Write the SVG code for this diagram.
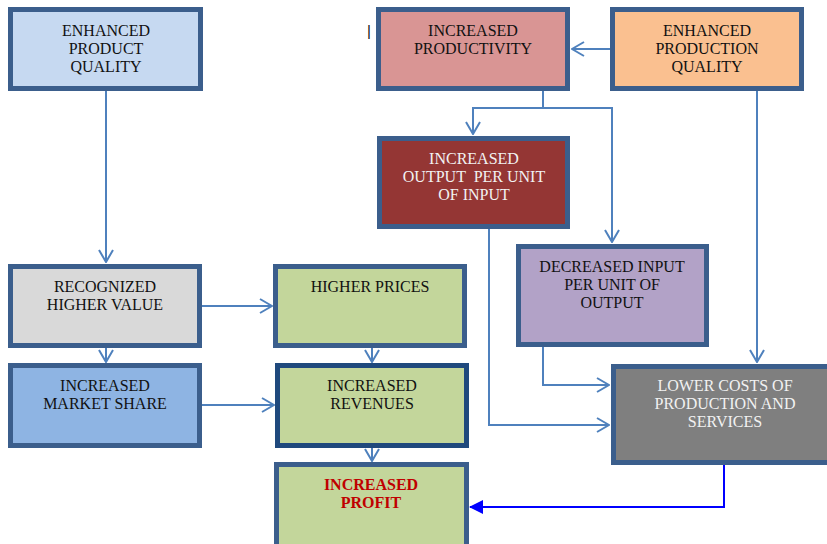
<svg xmlns="http://www.w3.org/2000/svg" width="827" height="544" viewBox="0 0 827 544">
<style>
.box{stroke:#3b5e8c;stroke-width:5}
.t{font-family:"Liberation Serif","Times New Roman",serif;font-size:16px;text-anchor:middle;fill:#111}
.w{fill:#f2f2f2}
.con{fill:none;stroke:#4f81bd;stroke-width:2;marker-end:url(#open)}
</style>
<defs>
<marker id="open" viewBox="0 0 14 16" refX="13" refY="8" markerWidth="14" markerHeight="16" orient="auto" markerUnits="userSpaceOnUse">
<path d="M1,1 L13,8 L1,15" fill="none" stroke="#4f81bd" stroke-width="2"/>
</marker>
<marker id="solid" viewBox="0 0 14 14" refX="13" refY="7" markerWidth="14" markerHeight="14" orient="auto" markerUnits="userSpaceOnUse">
<path d="M0,0 L14,7 L0,14 Z" fill="#0000ff"/>
</marker>
</defs>
<rect width="827" height="544" fill="#fff"/>
<text x="369" y="36" class="t" style="font-family:'Liberation Sans',sans-serif;font-size:15px">|</text>
<g id="connectors">
<path class="con" d="M106,91 V262"/>
<path class="con" d="M610,49 H572"/>
<path class="con" d="M543,91 V108 H473 V134"/>
<path class="con" d="M543,108 H612 V242"/>
<path class="con" d="M757,91 V362"/>
<path class="con" d="M489,217 V425 H609"/>
<path class="con" d="M543,347 V385 H609"/>
<path class="con" d="M202,306 H272"/>
<path class="con" d="M106,348 V362"/>
<path class="con" d="M372,348 V362"/>
<path class="con" d="M202,405 H274"/>
<path class="con" d="M372,448 V461"/>
<path d="M724,465 V507 H470" fill="none" stroke="#0000ff" stroke-width="2" marker-end="url(#solid)"/>
</g>
<g id="n1"><rect class="box" x="10.5" y="9.5" width="190" height="79" fill="#c6d9f1"/>
<text class="t" x="106" y="36">ENHANCED</text><text class="t" x="106" y="54">PRODUCT</text><text class="t" x="106" y="72">QUALITY</text></g>
<g id="n2"><rect class="box" x="378.5" y="9.5" width="189" height="79" fill="#d99594"/>
<text class="t" x="473" y="36">INCREASED</text><text class="t" x="473" y="54">PRODUCTIVITY</text></g>
<g id="n3"><rect class="box" x="612.5" y="9.5" width="189" height="79" fill="#fac090"/>
<text class="t" x="707" y="36">ENHANCED</text><text class="t" x="707" y="54">PRODUCTION</text><text class="t" x="707" y="72">QUALITY</text></g>
<g id="n4"><rect class="box" x="379.5" y="138.5" width="188" height="88" fill="#943634"/>
<text class="t w" x="474" y="164">INCREASED</text><text class="t w" x="474" y="182" xml:space="preserve">OUTPUT  PER UNIT</text><text class="t w" x="474" y="200">OF INPUT</text></g>
<g id="n5"><rect class="box" x="518.5" y="246.5" width="188" height="98" fill="#b2a2c7"/>
<text class="t" x="612" y="272">DECREASED INPUT</text><text class="t" x="612" y="290">PER UNIT OF</text><text class="t" x="612" y="308">OUTPUT</text></g>
<g id="n6"><rect class="box" x="10.5" y="266.5" width="189" height="79" fill="#d9d9d9"/>
<text class="t" x="105" y="292">RECOGNIZED</text><text class="t" x="105" y="310">HIGHER VALUE</text></g>
<g id="n7"><rect class="box" x="275.5" y="266.5" width="189" height="79" fill="#c3d69b"/>
<text class="t" x="370" y="292">HIGHER PRICES</text></g>
<g id="n8"><rect class="box" x="10.5" y="365.5" width="189" height="80" fill="#8eb4e3"/>
<text class="t" x="105" y="391">INCREASED</text><text class="t" x="105" y="409">MARKET SHARE</text></g>
<g id="n9"><rect class="box" x="277.5" y="365.5" width="189" height="80" fill="#c3d69b" style="stroke:#1f497d"/>
<text class="t" x="372" y="391">INCREASED</text><text class="t" x="372" y="409">REVENUES</text></g>
<g id="n10"><rect class="box" x="276.5" y="464.5" width="190" height="85" fill="#c3d69b"/>
<text class="t" x="371" y="490" style="fill:#c00000;font-weight:bold">INCREASED</text><text class="t" x="371" y="508" style="fill:#c00000;font-weight:bold">PROFIT</text></g>
<g id="n11"><rect class="box" x="613.5" y="366.5" width="220" height="96" fill="#7f7f7f"/>
<text class="t w" x="725" y="391">LOWER COSTS OF</text><text class="t w" x="725" y="409">PRODUCTION AND</text><text class="t w" x="725" y="427">SERVICES</text></g>
</svg>
